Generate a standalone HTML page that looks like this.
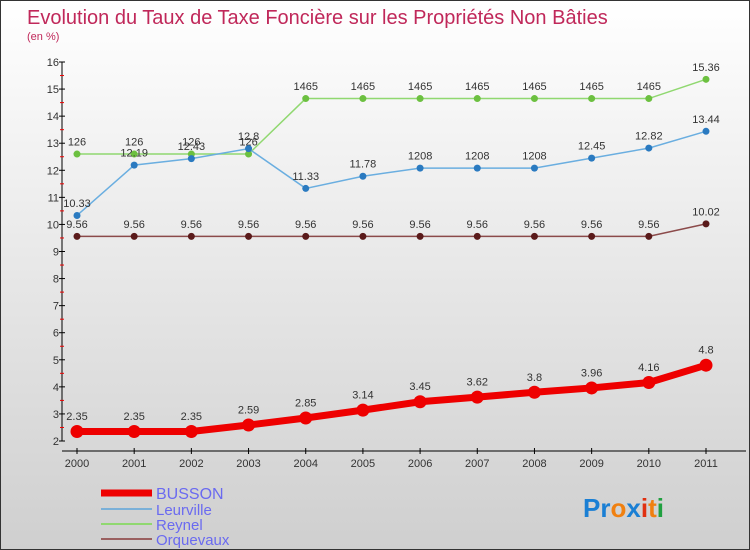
<!DOCTYPE html>
<html><head><meta charset="utf-8"><style>
body{margin:0}
#c{width:750px;height:550px;position:relative;box-sizing:border-box;border:1px solid #333;background:linear-gradient(#fff,#cfcfcf);font-family:"Liberation Sans",sans-serif;overflow:hidden}
svg text{font-family:"Liberation Sans",sans-serif}
</style></head><body>
<div id="c">
<svg id="s" width="750" height="550">
<text x="26" y="23" font-size="20" fill="#c0285a">Evolution du Taux de Taxe Foncière sur les Propriétés Non Bâties</text>
<text x="26" y="39" font-size="11" fill="#c0285a">(en %)</text>
<g id="logo"><text x="582" y="516" font-size="26" font-weight="bold"><tspan fill="#1a7fd4">Pr</tspan><tspan fill="#f08010">o</tspan><tspan fill="#1a7fd4">x</tspan><tspan fill="#e03010">i</tspan><tspan fill="#f08010">t</tspan><tspan fill="#20a040">i</tspan></text></g>
</svg>
</div>
<script>
const years=[2000,2001,2002,2003,2004,2005,2006,2007,2008,2009,2010,2011];
const busson=[2.35,2.35,2.35,2.59,2.85,3.14,3.45,3.62,3.8,3.96,4.16,4.8];
const leurville=[10.33,12.19,12.43,12.8,11.33,11.78,12.08,12.08,12.08,12.45,12.82,13.44];
const reynel=[12.6,12.6,12.6,12.6,14.65,14.65,14.65,14.65,14.65,14.65,14.65,15.36];
const orquevaux=[9.56,9.56,9.56,9.56,9.56,9.56,9.56,9.56,9.56,9.56,9.56,10.02];
const yTicks=[2,3,4,5,6,7,8,9,10,11,12,13,14,15,16];
const busLabels=["2.35","2.35","2.35","2.59","2.85","3.14","3.45","3.62","3.8","3.96","4.16","4.8"];
const leuLabels=["10.33","12.19","12.43","12.8","11.33","11.78","1208","1208","1208","12.45","12.82","13.44"];
const reyLabels=["126","126","126","126","1465","1465","1465","1465","1465","1465","1465","15.36"];
const orqLabels=["9.56","9.56","9.56","9.56","9.56","9.56","9.56","9.56","9.56","9.56","9.56","10.02"];
const NS="http://www.w3.org/2000/svg",s=document.getElementById('s');
const X=i=>76+i*(705-76)/(years.length-1);
const Y=v=>440-(v-2)*(440-61)/14;
function mk(t,a,p){const e=document.createElementNS(NS,t);for(const k in a)e.setAttribute(k,a[k]);(p||s).appendChild(e);return e;}
// axes
let ax=mk('line',{x1:61,y1:Y(16),x2:61,y2:Y(2),stroke:'#000'});


let xa=mk('line',{x1:61,y1:450,x2:745,y2:450,stroke:'#000'});


yTicks.forEach(v=>{
 mk('line',{x1:58,x2:64,y1:Y(v),y2:Y(v),stroke:'#000'});
 if(v<16)mk('line',{x1:59,x2:63,y1:Y(v+0.5),y2:Y(v+0.5),stroke:'#e00'});
 const t=mk('text',{x:58,y:Y(v)+4,'font-size':11,'text-anchor':'end',fill:'#333'});t.textContent=v;
 
 
});
years.forEach((y,i)=>{
 mk('line',{x1:X(i),x2:X(i),y1:447,y2:453,stroke:'#000'});
 const t=mk('text',{x:X(i),y:466,'font-size':11,'text-anchor':'middle',fill:'#333'});t.textContent=y;
 
 
});
function series(vals,labs,col,dot,w,r,name){
 const g=mk('g',{});
 
 
 mk('polyline',{points:vals.map((v,i)=>X(i)+','+Y(v)).join(' '),fill:'none',stroke:col,'stroke-width':w},g);
 vals.forEach((v,i)=>{
  const c=mk('circle',{cx:X(i),cy:Y(v),r:r,fill:dot},g);
  
  
  const t=mk('text',{x:X(i),y:Y(v)-(r+5),'font-size':11,'text-anchor':'middle',fill:'#333'},g);t.textContent=labs[i];
  
  
 });
}
series(orquevaux,orqLabels,'#8b4a4a','#5a1a1a',1.5,3.5,'orquevaux');
series(reynel,reyLabels,'#90d870','#6cc040',1.5,3.5,'reynel');
series(leurville,leuLabels,'#6aaee0','#2a7ac0',1.5,3.5,'leurville');
series(busson,busLabels,'#ee0000','#ee0000',7,6.5,'busson');
// legend
const leg=[['BUSSON','#ee0000',7,492],['Leurville','#7ab0d8',2,508],['Reynel','#90d870',2,523],['Orquevaux','#9a6060',2,538]];
leg.forEach(l=>{
 const g=mk('g',{});
 
 
 mk('line',{x1:100,x2:151,y1:l[3],y2:l[3],stroke:l[1],'stroke-width':l[2]},g);
 const t=mk('text',{x:155,y:l[3]+6,'font-size':l[0]=='BUSSON'?16:15,fill:'#6a6af0'},g);t.textContent=l[0];
});
</script>
</body></html>
